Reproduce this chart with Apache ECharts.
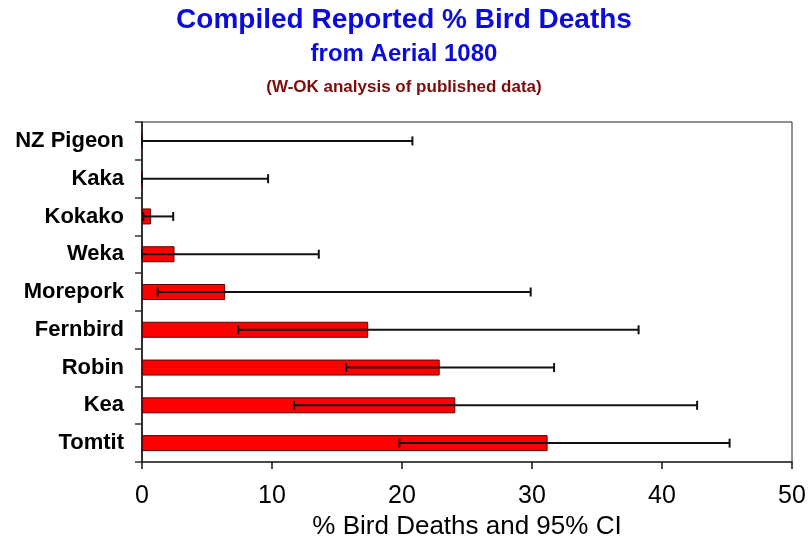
<!DOCTYPE html>
<html>
<head>
<meta charset="utf-8">
<script src="https://cdn.jsdelivr.net/npm/echarts@6/dist/echarts.min.js"></script>
<style>
html,body{margin:0;padding:0;background:#fff;}
#c{width:808px;height:539px;}
</style>
</head>
<body>
<div id="c"></div>
<script>
var categories = ['NZ Pigeon','Kaka','Kokako','Weka','Morepork','Fernbird','Robin','Kea','Tomtit'];
var deaths = [0, 0, 0.7, 2.5, 6.4, 17.4, 22.9, 24.1, 31.2];
var ciLow = [0, 0, 0.1, 0, 1.2, 7.4, 15.7, 11.7, 19.8];
var ciHigh = [20.8, 9.7, 2.4, 13.6, 29.9, 38.2, 31.7, 42.7, 45.2];
var xTicks = [0, 10, 20, 30, 40, 50];

var errData = categories.map(function(c, i){ return [i, ciLow[i], ciHigh[i]]; });

var chart = echarts.init(document.getElementById('c'), null, {renderer:'canvas'});
var font = '"Liberation Sans", Arial, sans-serif';
chart.setOption({
  animation:false,
  backgroundColor:'#fff',
  title:[
    {text:'Compiled Reported % Bird Deaths', left:'center', top:1,
     textStyle:{color:'#0b0bdc', fontSize:28, fontWeight:'bold', fontFamily:font}},
    {text:'from Aerial 1080', left:'center', top:37,
     textStyle:{color:'#0b0bdc', fontSize:24, fontWeight:'bold', fontFamily:font}},
    {text:'(W-OK analysis of published data)', left:'center', top:74,
     textStyle:{color:'#7f0a0a', fontSize:17, fontWeight:'bold', fontFamily:font}}
  ],
  grid:{left:142, right:16, top:122, bottom:77, outerBoundsMode:'none', containLabel:false,
        show:true, borderColor:'#222', borderWidth:1, backgroundColor:'transparent'},
  xAxis:{
    type:'value', min:0, max:50, interval:10,
    axisLine:{show:true, lineStyle:{color:'#333', width:1.5}},
    axisTick:{show:true, length:7, lineStyle:{color:'#111', width:1.5}},
    splitLine:{show:false},
    axisLabel:{fontSize:25, color:'#000', fontFamily:font, margin:22,
      formatter:function(v){ return xTicks.indexOf(v) >= 0 ? String(v) : ''; }},
    name:'% Bird Deaths and 95% CI', nameLocation:'middle', nameGap:48,
    nameTextStyle:{fontSize:26, color:'#000', fontFamily:font, verticalAlign:'top'}
  },
  yAxis:{
    type:'category', data:categories, inverse:true,
    axisLine:{show:true, lineStyle:{color:'#111', width:1.5}},
    axisTick:{show:true, length:7, lineStyle:{color:'#333', width:1.5}},
    axisLabel:{fontSize:22, fontWeight:'bold', color:'#000', fontFamily:font, margin:18}
  },
  series:[
    {type:'bar', data:deaths, barWidth:16,
     itemStyle:{color:'#ff0000', borderColor:'#5a0000', borderWidth:1}},
    {type:'custom', data:errData, z:10,
     renderItem:function(params, api){
       var idx = api.value(0);
       var p1 = api.coord([api.value(1), idx]);
       var p2 = api.coord([api.value(2), idx]);
       var h = 4.5;
       var st = {stroke:'#111', lineWidth:2};
       return {type:'group', children:[
         {type:'line', shape:{x1:p1[0], y1:p1[1], x2:p2[0], y2:p2[1]}, style:st},
         {type:'line', shape:{x1:p1[0], y1:p1[1]-h, x2:p1[0], y2:p1[1]+h}, style:st},
         {type:'line', shape:{x1:p2[0], y1:p2[1]-h, x2:p2[0], y2:p2[1]+h}, style:st}
       ]};
     },
     encode:{x:[1,2], y:0}}
  ]
});
</script>
</body>
</html>
